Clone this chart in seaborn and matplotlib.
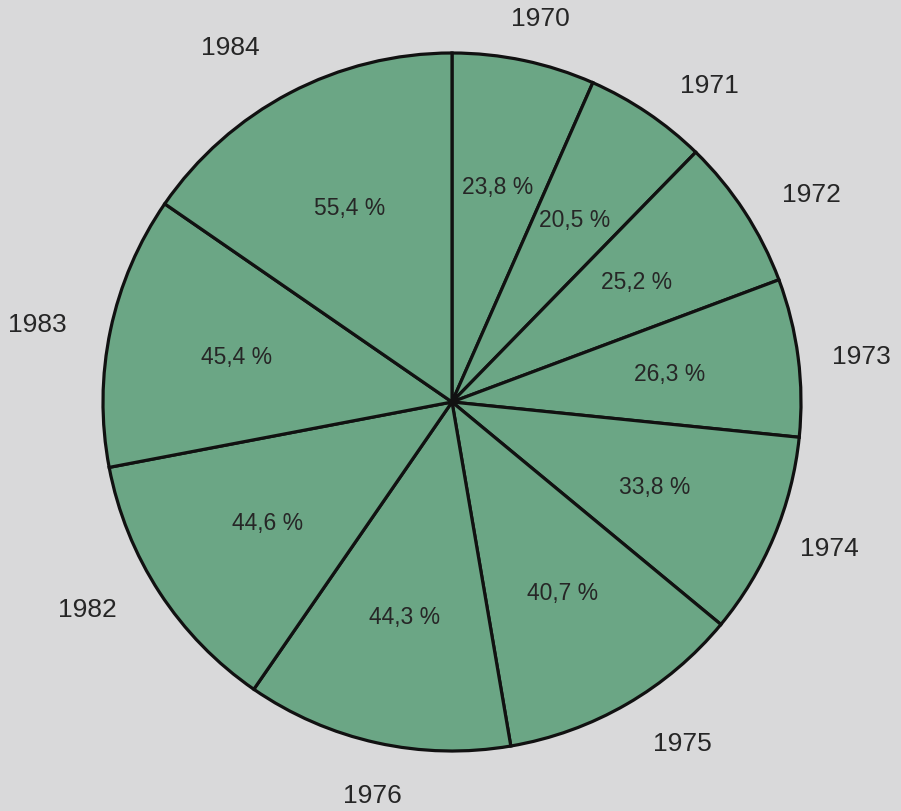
import matplotlib
matplotlib.use("Agg")
import matplotlib.pyplot as plt
import numpy as np
import seaborn as sns

# Data (wedge sizes sum to 360)
years = ['1970', '1971', '1972', '1973', '1974', '1975', '1976', '1982', '1983', '1984']
shares = [23.8, 20.5, 25.2, 26.3, 33.8, 40.7, 44.3, 44.6, 45.4, 55.4]

# where each year label sits as printed: radius multiple and angle nudge (deg)
label_dist = [1.13, 1.17, 1.19, 1.18, 1.16, 1.18, 1.15, 1.20, 1.21, 1.20]
label_nudge = [-1, -5, -3, -1, 1.5, 4, 1, -3.5, 1.3, 4.3]

sns.set_theme(style="white")
plt.rcParams['font.family'] = ['Liberation Sans', 'DejaVu Sans']

BG = '#d9d9da'
GREEN = '#6ba685'
INK = '#262626'

fig = plt.figure(figsize=(9.01, 8.12), dpi=100, facecolor=BG)
W, H = 901, 812
cx, cy, r = 452, 403, 349
ax = fig.add_axes([(cx - r) / W, (H - cy - r) / H, 2 * r / W, 2 * r / H])
ax.set_facecolor(BG)

wedges, texts, autotexts = ax.pie(
    shares,
    labels=years,
    colors=[GREEN] * len(shares),
    startangle=90,
    counterclock=False,
    labeldistance=1.18,
    pctdistance=0.63,
    autopct=lambda p: ('%.1f' % (p * 3.6)).replace('.', ',') + ' %',
    wedgeprops=dict(edgecolor='#111111', linewidth=2.3),
    textprops=dict(color=INK),
)
for w, t, d, n in zip(wedges, texts, label_dist, label_nudge):
    ang = np.deg2rad((w.theta1 + w.theta2) / 2 + n)
    t.set_position((d * np.cos(ang), d * np.sin(ang)))
    t.set_fontsize(19)
    t.set_ha('center')
    t.set_va('center')
for t in autotexts:
    t.set_fontsize(16.5)

ax.set_xlim(-1, 1)
ax.set_ylim(-1, 1)
ax.axis('off')

fig.savefig('out.png', dpi=100, facecolor=BG)
